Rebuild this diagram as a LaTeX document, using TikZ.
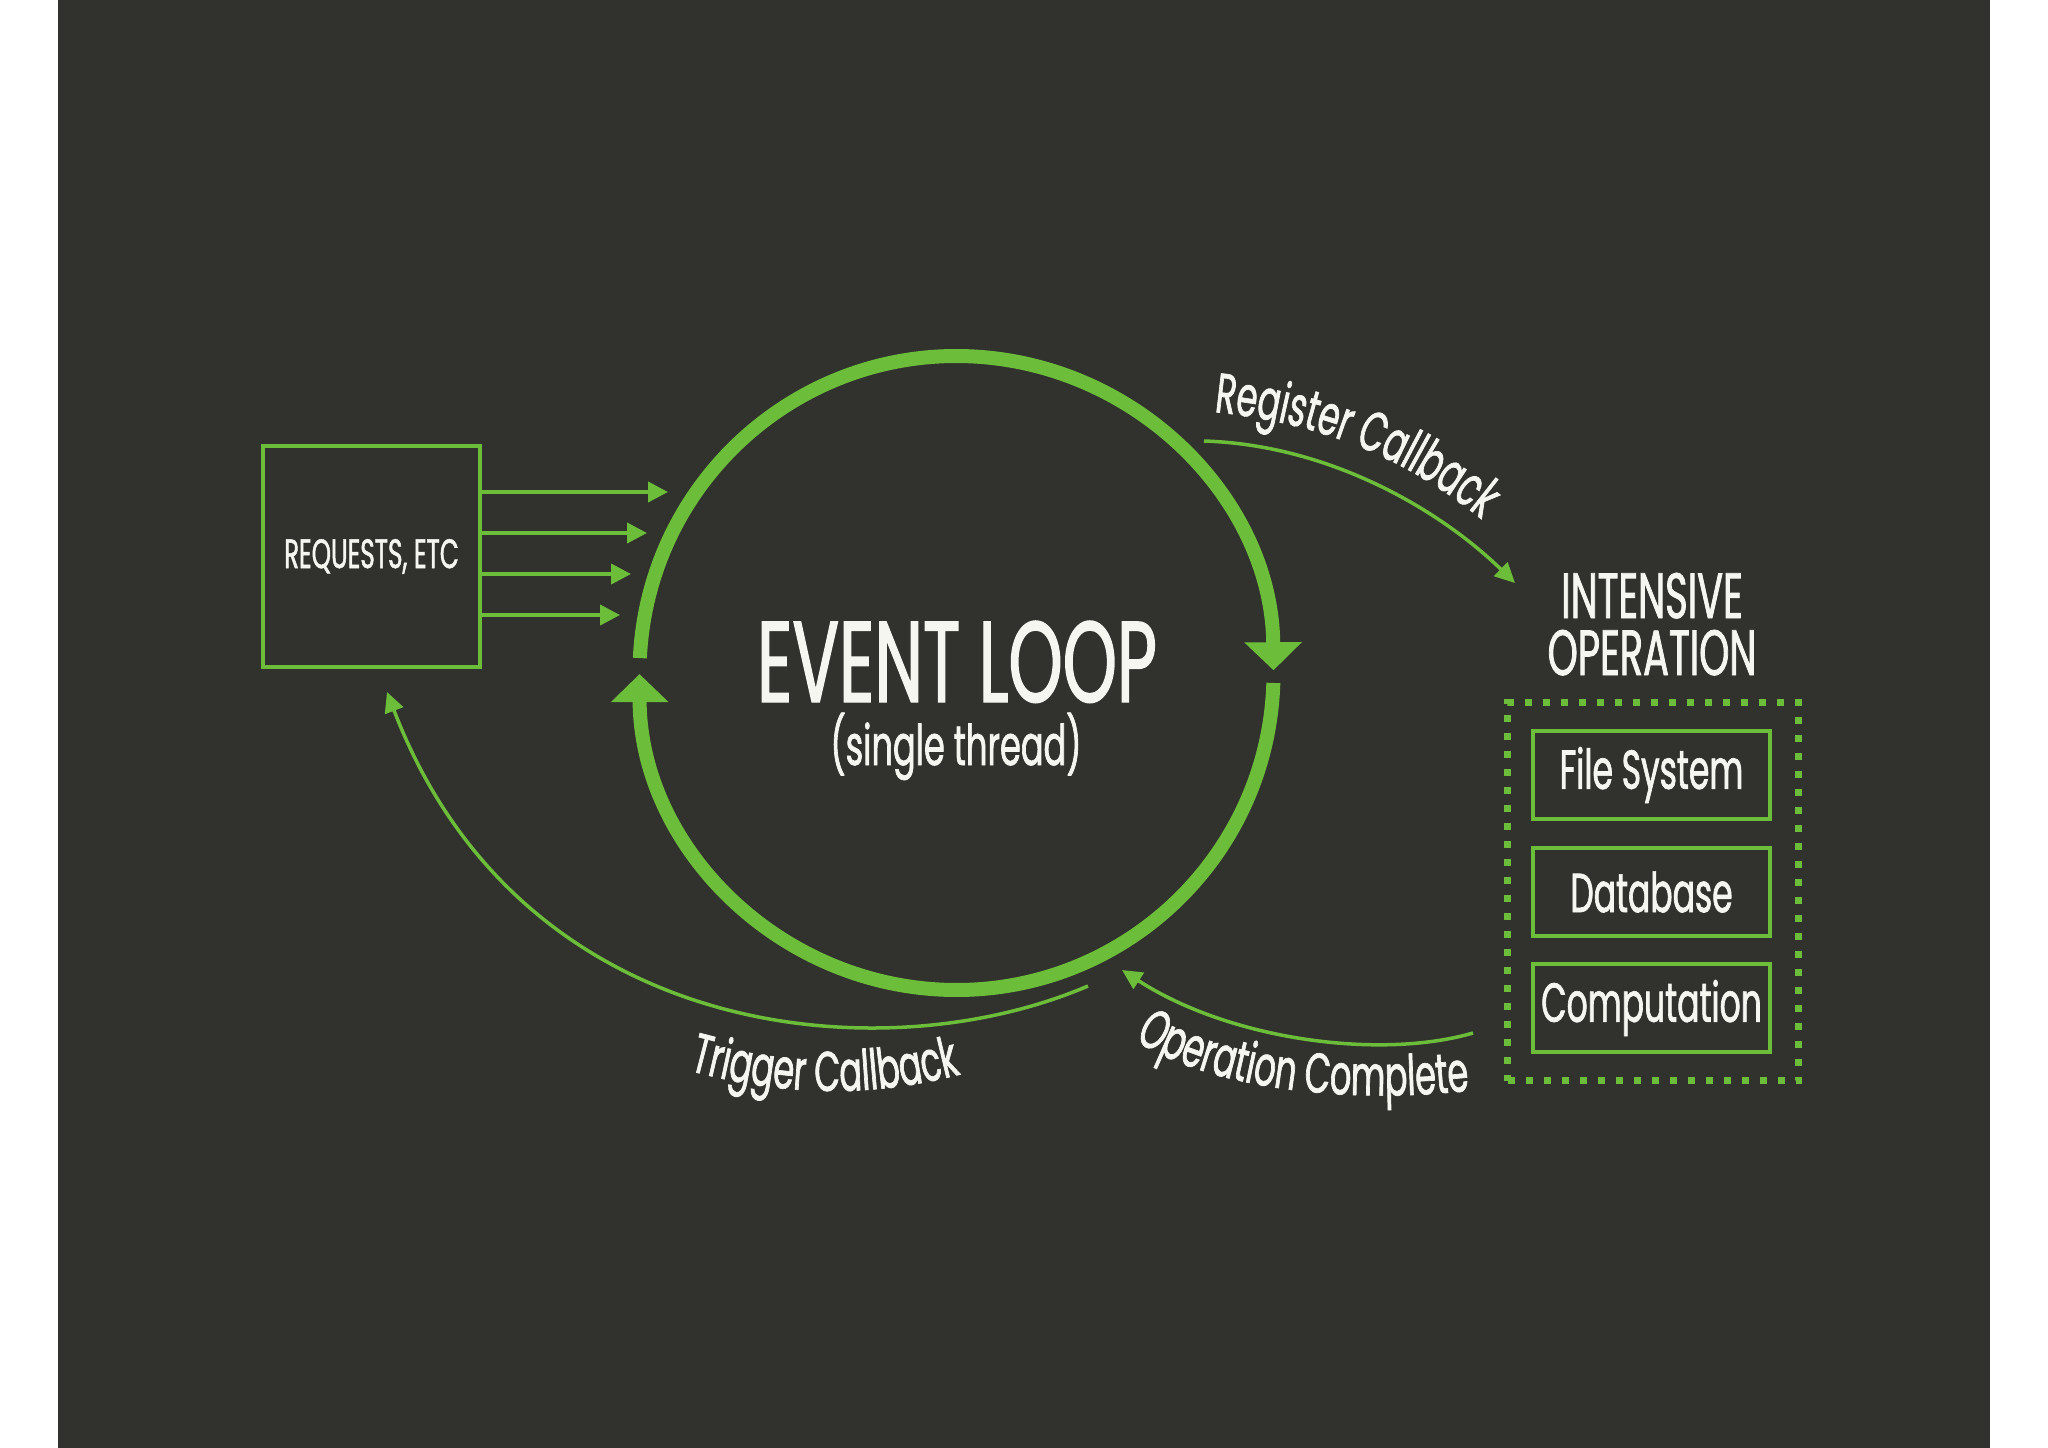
\documentclass[tikz,border=0pt]{standalone}
\usepackage{fontspec}
\setmainfont{Poppins}[FakeStretch=0.6, FakeBold=1.2]
\usetikzlibrary{arrows.meta,decorations.text,calc}
\definecolor{bg}{RGB}{49,50,45}
\definecolor{grn}{RGB}{108,190,58}
\definecolor{txt}{RGB}{246,246,240}
\newcommand\lblfont{\fontsize{56}{56}\selectfont\color{txt}}
\begin{document}
\begin{tikzpicture}[x=1pt,y=-1pt,
  bigarc/.style={draw=grn, line width=14pt, -{Triangle[length=28pt,width=56pt]}},
  reqarrow/.style={draw=grn, line width=4pt, -{Triangle[length=20pt,width=20pt]}},
  flow/.style={draw=grn, line width=3.5pt, -{Triangle[length=20pt,width=19pt]}},
  gbox/.style={draw=grn, line width=4pt, text=txt, inner sep=0pt},
  opbox/.style={gbox, minimum width=237pt, minimum height=88pt, font=\fontsize{55}{55}\selectfont},
  dotbox/.style={draw=grn, line width=7pt, dash pattern=on 7pt off 11pt, minimum width=291pt, minimum height=378pt, inner sep=0pt},
  plain/.style={text=txt, inner sep=0pt},
  along/.style={decorate, decoration={text along path, text align=center, text={#1}}}]
\useasboundingbox (0,0) rectangle (2048,1448);
\fill[white] (0,0) rectangle (2048,1448);
\fill[bg] (58,0) rectangle (1990,1448);

% event loop circle
\coordinate (C) at (956.5,673);
\draw[bigarc] ($(C)+(-177.3:317)$) arc[start angle=-177.3, end angle=-0.5, radius=317];
\draw[bigarc] ($(C)+(1.8:317)$) arc[start angle=1.8, end angle=179.8, radius=317];
\node[plain, anchor=base, font=\fontsize{115}{115}\selectfont] (el) at (957,702) {EVENT LOOP};
\node[plain, anchor=base, font=\fontsize{56}{56}\selectfont] (st) at (956,765) {(single thread)};

% requests
\node[gbox, minimum width=217pt, minimum height=221pt, font=\fontsize{41}{41}\selectfont] (req) at (371.5,556.5) {\raisebox{-4pt}{REQUESTS, ETC}};
\coordinate (t1) at (668,492);
\coordinate (t2) at (647,533);
\coordinate (t3) at (631,574);
\coordinate (t4) at (620,615);
\foreach \t in {t1,t2,t3,t4} \draw[reqarrow] (\t -| req.east) -- (\t);

% intensive operation
\node[plain, anchor=base, font=\fontsize{64}{64}\selectfont] (int) at (1652,618) {INTENSIVE};
\node[plain, anchor=base, font=\fontsize{64}{64}\selectfont] (opr) at (1652,675) {OPERATION};
\node[dotbox] (ops) at (1653,891.5) {};
\node[opbox] (fs) at (1651.5,775) {File System};
\node[opbox] (db) at (1651.5,892) {Database};
\node[opbox] (cp) at (1651.5,1008) {Computation};

% register callback
\coordinate (rcS) at (1204,441);
\coordinate (rcE) at (1515,583);
\draw[flow] (rcS) .. controls (1330,445) and (1440,510) .. (rcE);
\path[along={|\lblfont|Register Callback}] (1190,410) .. controls (1310,418) and (1410,455) .. (1500,535);

% operation complete
\coordinate (ocS) at (1473,1033);
\coordinate (ocE) at (1122,970);
\draw[flow] (ocS) .. controls (1380,1060) and (1230,1040) .. (ocE);
\path[along={|\lblfont|Operation Complete}] (1118,1028) .. controls (1190,1088) and (1350,1108) .. (1490,1088);

% trigger callback
\coordinate (tcS) at (1088,986);
\coordinate (tcE) at (387,692);
\draw[flow] (tcS) .. controls (880,1075) and (520,1040) .. (tcE);
\path[along={|\lblfont|Trigger Callback}] (660,1062) .. controls (780,1100) and (880,1100) .. (990,1066);
\end{tikzpicture}
\end{document}
